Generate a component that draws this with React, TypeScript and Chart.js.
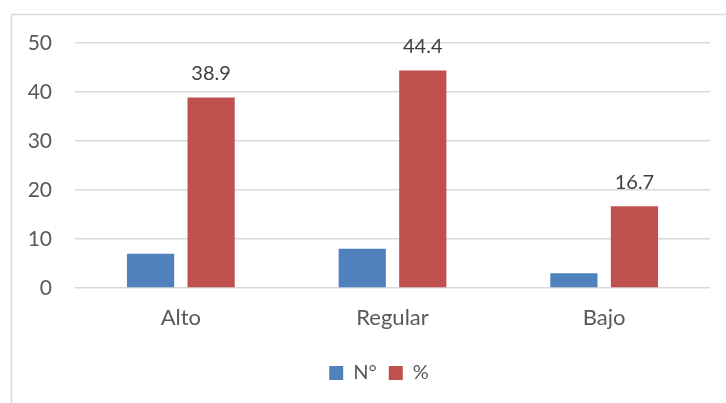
import React, { useEffect, useRef } from "react";
import { Chart, registerables } from "chart.js";

Chart.register(...registerables);

const categories = ["Alto", "Regular", "Bajo"];
const countValues = [7, 8, 3];
const percentValues = [38.9, 44.4, 16.7];
const seriesNames = ["N°", "%"];
const yTicks = { min: 0, max: 50, step: 10 };

const TEXT = "#595959";
const GRID = "#D9D9D9";
const FONT = "Lato, 'Open Sans', sans-serif";

// Frame around the chart, opening off the right and bottom edges
const framePlugin = {
  id: "frame",
  beforeDraw(chart: any) {
    const { ctx, width, height } = chart;
    ctx.save();
    ctx.strokeStyle = GRID;
    ctx.lineWidth = 1.5;
    ctx.strokeRect(11.5, 14.5, width, height);
    ctx.restore();
  },
};

// Centre the legend inside the framed area (frame starts at x = 11)
const legendShiftPlugin = {
  id: "legendShift",
  afterLayout(chart: any) {
    const legend = chart.legend;
    if (!legend) return;
    const target = (chart.width + 32) / 2;
    const shift = target - (legend.left + legend.right) / 2;
    legend.left += shift;
    legend.right += shift;
  },
};

// Value labels above the percentage bars
const valueLabelPlugin = {
  id: "valueLabels",
  afterDatasetsDraw(chart: any) {
    const { ctx } = chart;
    const meta = chart.getDatasetMeta(1);
    ctx.save();
    ctx.fillStyle = "#404040";
    ctx.font = `20px ${FONT}`;
    ctx.textAlign = "center";
    ctx.textBaseline = "middle";
    meta.data.forEach((bar: any, i: number) => {
      ctx.fillText(percentValues[i].toFixed(1), bar.x, bar.y - 24);
    });
    ctx.restore();
  },
};

export default function App() {
  const canvasRef = useRef<HTMLCanvasElement | null>(null);

  useEffect(() => {
    if (!canvasRef.current) return;
    const chart = new Chart(canvasRef.current, {
      type: "bar",
      data: {
        labels: categories,
        datasets: [
          {
            label: seriesNames[0],
            data: countValues,
            backgroundColor: "#4F81BD",
            categoryPercentage: 0.572,
            barPercentage: 0.78,
          },
          {
            label: seriesNames[1],
            data: percentValues,
            backgroundColor: "#C0504D",
            categoryPercentage: 0.572,
            barPercentage: 0.78,
          },
        ],
      },
      options: {
        responsive: false,
        animation: false,
        layout: { padding: { left: 20, right: 16, top: 43, bottom: 10 } },
        plugins: {
          legend: {
            position: "bottom",
            labels: {
              boxWidth: 14,
              boxHeight: 14,
              padding: 12,
              color: TEXT,
              font: { family: FONT, size: 20 },
            },
          },
          tooltip: { enabled: false },
        },
        scales: {
          x: {
            grid: { display: false, drawTicks: false },
            border: { display: false },
            ticks: { color: TEXT, font: { family: FONT, size: 22 }, padding: 17 },
            afterFit(scale: any) {
              scale.height = 63;
            },
          },
          y: {
            min: yTicks.min,
            max: yTicks.max,
            grid: { color: GRID, lineWidth: 1.5, drawTicks: false },
            border: { display: false },
            ticks: {
              stepSize: yTicks.step,
              color: TEXT,
              font: { family: FONT, size: 21 },
              padding: 23,
            },
            afterFit(scale: any) {
              scale.width = 55;
            },
          },
        },
      },
      plugins: [framePlugin, legendShiftPlugin, valueLabelPlugin],
    });
    return () => chart.destroy();
  }, []);

  return (
    <div style={{ position: "absolute", left: 0, top: 0, width: 726, height: 403, background: "#fff" }}>
      <canvas ref={canvasRef} width={726} height={403} />
    </div>
  );
}
